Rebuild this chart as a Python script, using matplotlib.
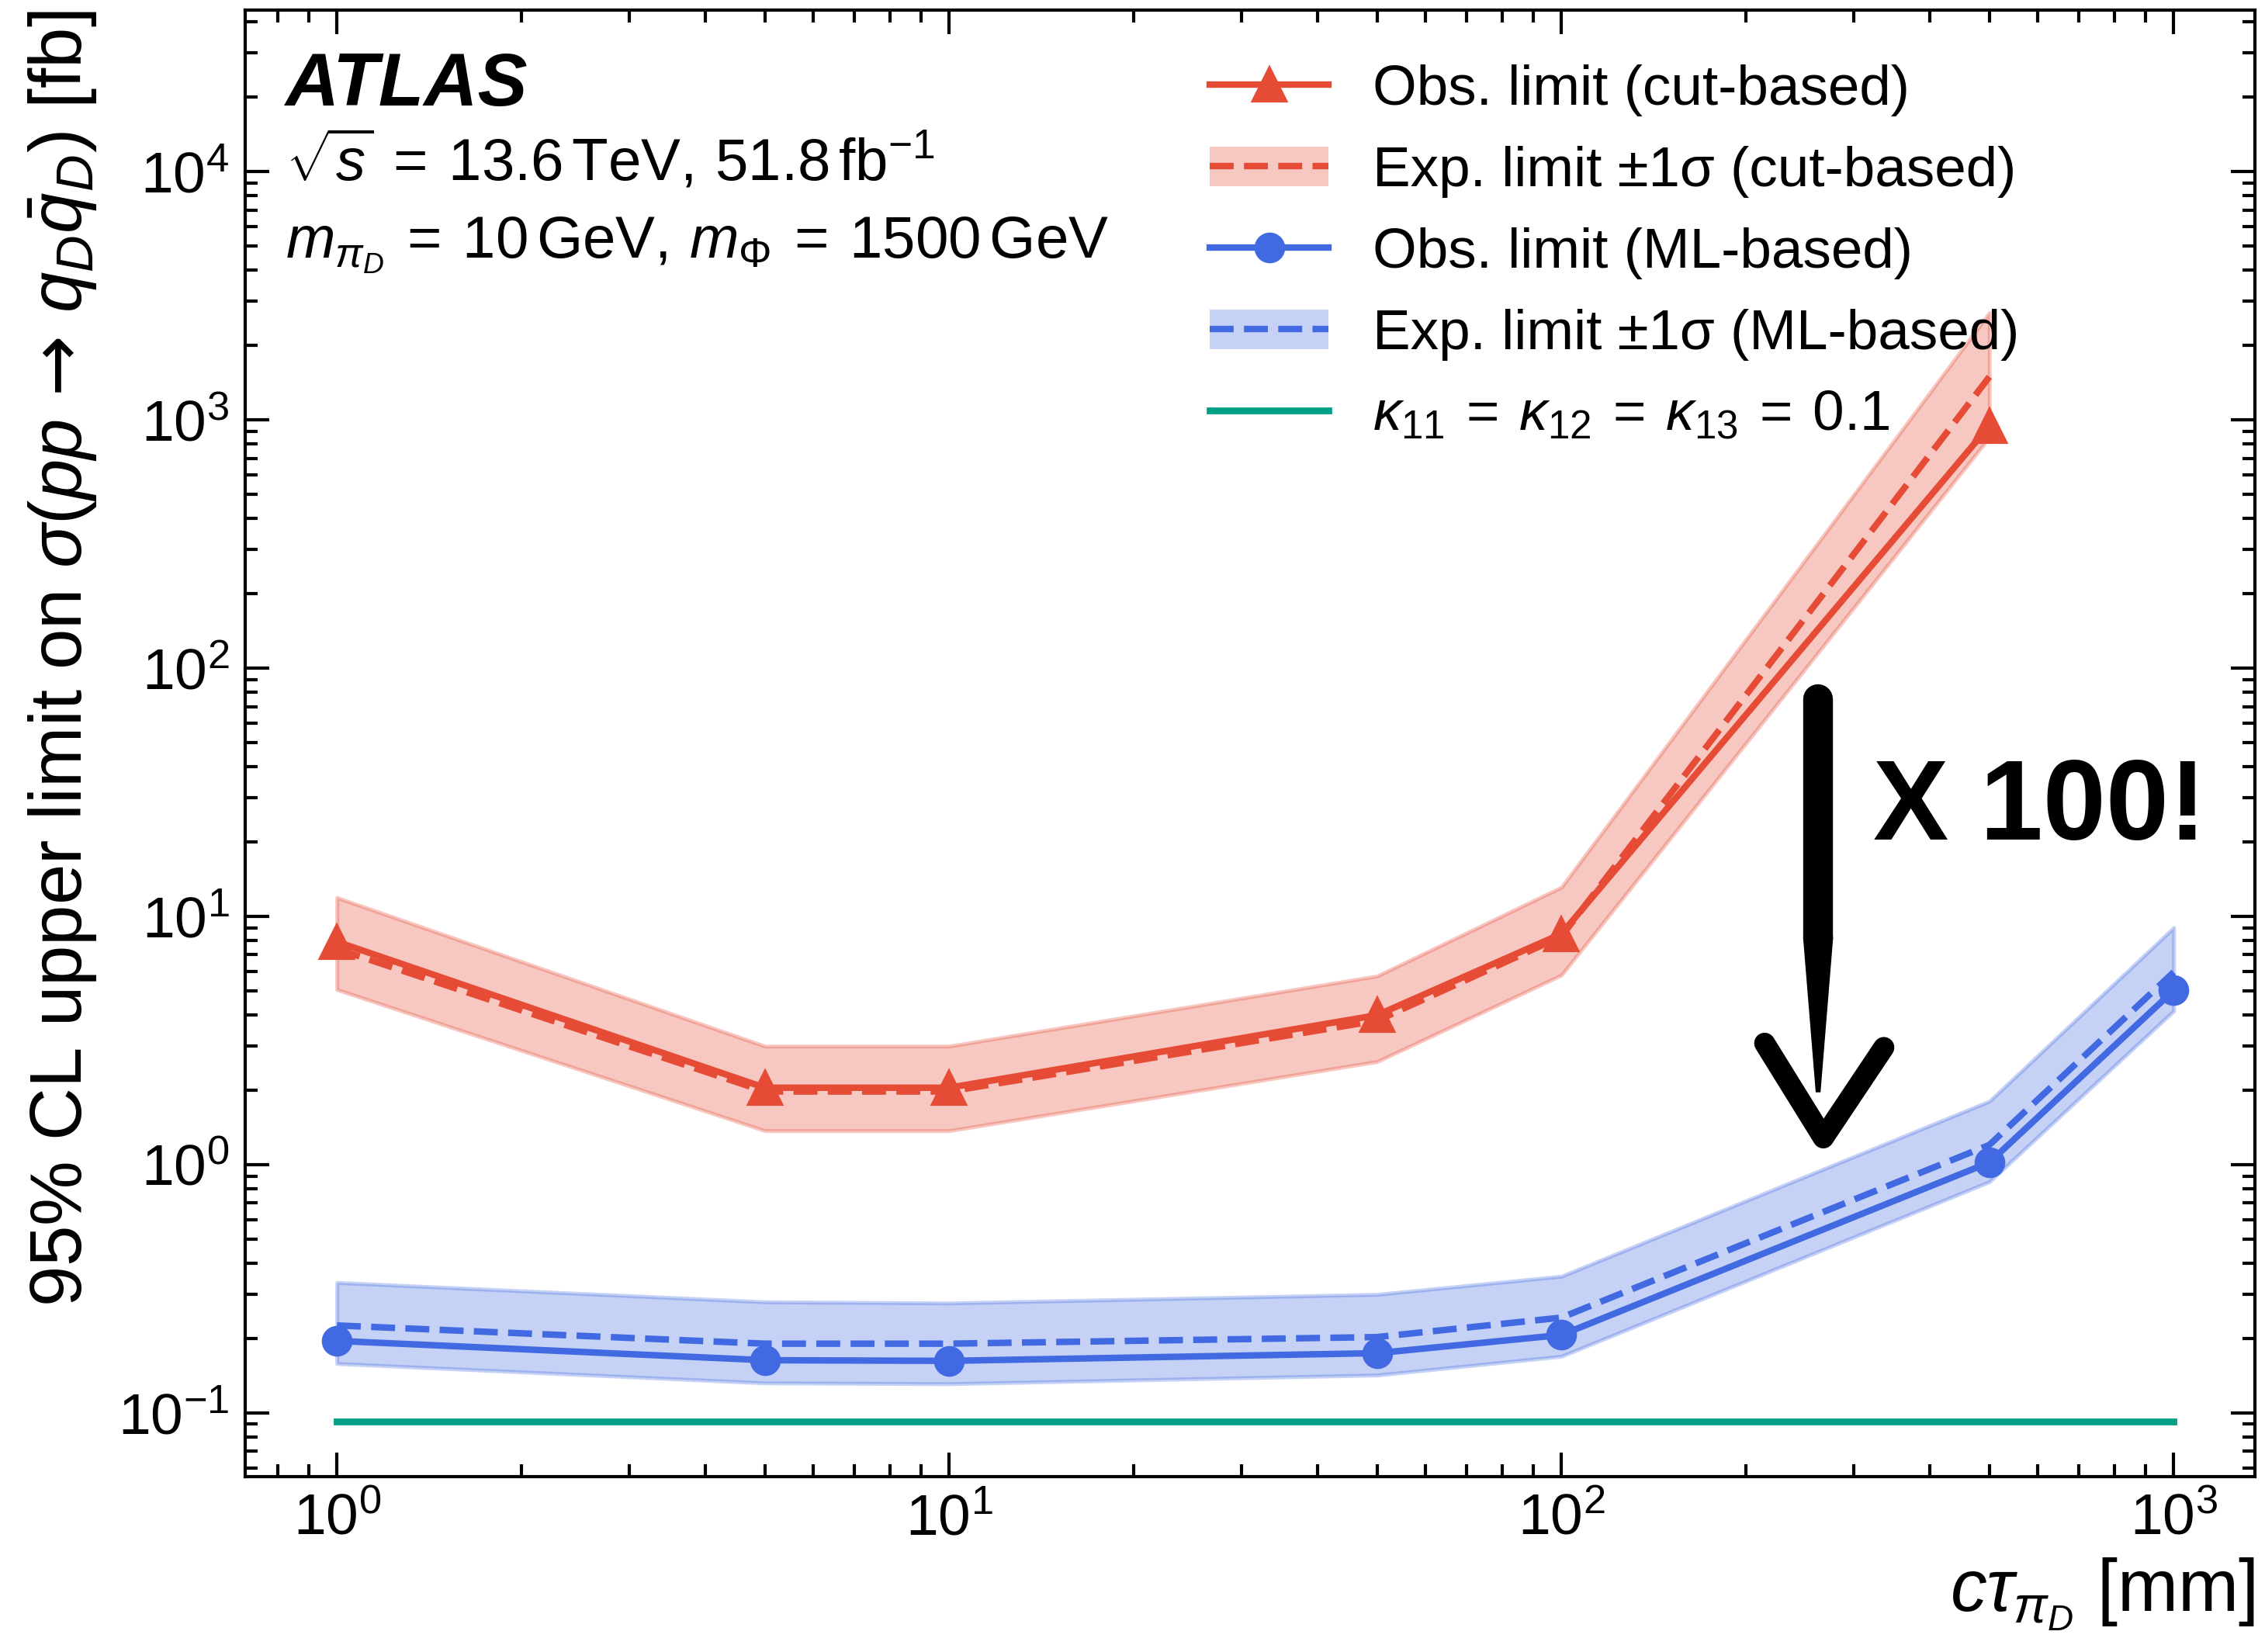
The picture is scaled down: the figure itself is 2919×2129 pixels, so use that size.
import numpy as np
import matplotlib
matplotlib.use("Agg")
import matplotlib.pyplot as plt
from matplotlib.lines import Line2D
from matplotlib.patches import Patch
from matplotlib.ticker import LogLocator, NullFormatter

plt.rcParams["font.family"] = ["Liberation Sans", "DejaVu Sans"]
plt.rcParams["mathtext.fontset"] = "custom"
plt.rcParams["mathtext.rm"] = "Liberation Sans"
plt.rcParams["mathtext.it"] = "Liberation Sans:italic"
plt.rcParams["mathtext.bf"] = "Liberation Sans:bold"
plt.rcParams["mathtext.sf"] = "DejaVu Sans"
plt.rcParams["font.size"] = 18

# cut-based limits [fb] vs c*tau [mm]
ctau_cut = [1, 5, 10, 50, 100, 500]
obs_cut = [7.9, 2.04, 2.04, 4.0, 8.5, 945]
exp_cut = [7.4, 1.97, 1.97, 3.8, 8.3, 1490]
exp_cut_up = [11.9, 3.0, 3.0, 5.75, 13.1, 2700]
exp_cut_dn = [5.07, 1.37, 1.37, 2.6, 5.8, 850]

# ML-based limits [fb]
ctau_ml = [1, 5, 10, 50, 100, 500, 1000]
obs_ml = [0.195, 0.163, 0.162, 0.174, 0.206, 1.02, 5.03]
exp_ml = [0.225, 0.19, 0.19, 0.202, 0.242, 1.2, 5.96]
exp_ml_up = [0.335, 0.28, 0.277, 0.30, 0.355, 1.80, 9.0]
exp_ml_dn = [0.158, 0.132, 0.131, 0.142, 0.169, 0.853, 4.16]

# theory cross-section for kappa = 0.1
ctau_th = [1, 1000]
xsec_th = [0.092, 0.092]

red = "#E64B35"
blue = "#4169E1"
green = "#00A087"

fig = plt.figure(figsize=(2919 / 300, 2129 / 300), dpi=300)
ax = fig.add_axes([0.1083, 0.1062, 0.8873, 0.8877])

ax.fill_between(ctau_cut, exp_cut_dn, exp_cut_up, color=red, alpha=0.3, lw=1.2, zorder=1)
ax.fill_between(ctau_ml, exp_ml_dn, exp_ml_up, color=blue, alpha=0.3, lw=1.2, zorder=1)
ax.plot(ctau_cut, exp_cut, color=red, ls="--", lw=2, zorder=2)
ax.plot(ctau_ml, exp_ml, color=blue, ls="--", lw=2, zorder=2)
ax.plot(ctau_cut, obs_cut, color=red, lw=2, marker="^", ms=10, zorder=3)
ax.plot(ctau_ml, obs_ml, color=blue, lw=2, marker="o", ms=8.5, zorder=3)
ax.plot(ctau_th, xsec_th, color=green, lw=2.1, zorder=2)

ax.set_xscale("log")
ax.set_yscale("log")
ax.set_xlim(0.7086, 1358)
ax.set_ylim(0.0554, 44700)

for axis in (ax.xaxis, ax.yaxis):
    axis.set_major_locator(LogLocator(base=10, numticks=100))
    axis.set_minor_locator(LogLocator(base=10, subs=np.arange(2, 10), numticks=100))
    axis.set_minor_formatter(NullFormatter())
ax.tick_params(which="both", direction="in", top=True, right=True)
ax.tick_params(which="major", length=7.5, width=1.0)
ax.tick_params(which="minor", length=3.75, width=1.0)
ax.tick_params(axis="x", which="major", pad=5)
ax.tick_params(axis="y", which="major", pad=5)
for sp in ax.spines.values():
    sp.set_linewidth(1.0)

ax.set_xlabel(r"$c\tau_{\pi_D}$ [mm]", loc="right", labelpad=3, fontsize=22.5)
ax.set_ylabel(r"95% CL upper limit on $\sigma(pp\,\mathsf{\rightarrow}\,q_D\bar{q}_D)$ [fb]",
              loc="top", labelpad=6, fontsize=22.6)

# labels
ax.text(0.02, 0.935, "ATLAS", transform=ax.transAxes, fontsize=23,
        fontweight="bold", fontstyle="italic", va="baseline")
ax.text(0.02, 0.8836, r"$\sqrt{s}\:=\:13.6\,\mathrm{TeV},\,51.8\,\mathrm{fb}^{-1}$",
        transform=ax.transAxes, va="baseline", fontsize=18.3)
ax.text(0.02, 0.8307, r"$m_{\pi_D}\:=\:10\,\mathrm{GeV},\,m_{\Phi}\:=\:1500\,\mathrm{GeV}$",
        transform=ax.transAxes, va="baseline", fontsize=18.3)

handles = [
    Line2D([], [], color=red, lw=2, marker="^", ms=10),
    (Patch(facecolor=red, alpha=0.3, lw=0), Line2D([], [], color=red, lw=2, ls="--")),
    Line2D([], [], color=blue, lw=2, marker="o", ms=8.5),
    (Patch(facecolor=blue, alpha=0.3, lw=0), Line2D([], [], color=blue, lw=2, ls="--")),
    Line2D([], [], color=green, lw=2.1),
]
labels = [
    "Obs. limit (cut-based)",
    "Exp. limit \u00b11\u03c3 (cut-based)",
    "Obs. limit (ML-based)",
    "Exp. limit \u00b11\u03c3 (ML-based)",
    r"$\kappa_{11}\:=\:\kappa_{12}\:=\:\kappa_{13}\:=\:0.1$",
]
ax.legend(handles, labels, loc="upper left", bbox_to_anchor=(0.48, 0.963),
          frameon=False, borderpad=0, borderaxespad=0, handlelength=2.1,
          handletextpad=0.78, labelspacing=0.52, fontsize=17.5)

# hand-drawn style arrow with the improvement factor
ax.plot([0.7826, 0.7826], [0.530, 0.368], transform=ax.transAxes, color="black",
        lw=9.2, solid_capstyle="round", zorder=5)
ax.fill([0.7826 - 0.0075, 0.7826 + 0.0075, 0.7826 + 0.0012, 0.7826 - 0.0012],
        [0.368, 0.368, 0.262, 0.262], transform=ax.transAxes, color="black", lw=0, zorder=5)
ax.plot([0.7560, 0.7852, 0.8153], [0.2955, 0.2309, 0.2926], transform=ax.transAxes,
        color="black", lw=6.5, solid_capstyle="round", solid_joinstyle="round", zorder=5)
ax.text(0.810, 0.4344, "X 100!", transform=ax.transAxes, fontsize=35,
        fontweight="bold", va="baseline")

fig.savefig("out.png", dpi=300)
